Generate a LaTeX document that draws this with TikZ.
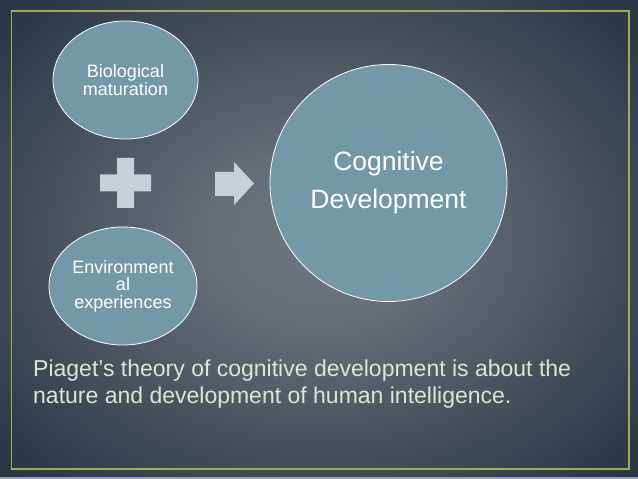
\documentclass[tikz,border=0pt]{standalone}
\usepackage{fontspec}
\setmainfont{Liberation Sans}
\usetikzlibrary{shapes.geometric}

\definecolor{bgin}{HTML}{6D7780}
\definecolor{bgin2}{HTML}{656E77}
\definecolor{bgmid}{HTML}{48525C}
\definecolor{bgedge}{HTML}{2A3848}
\definecolor{bgedge2}{HTML}{1D2B39}
\definecolor{bgout}{HTML}{13202D}
\definecolor{framey}{HTML}{A9AA4C}
\definecolor{tealfill}{HTML}{7399A6}
\definecolor{signgray}{HTML}{C5D0D8}
\definecolor{captiontxt}{HTML}{DFE5D4}
\definecolor{stripgray}{HTML}{9AA3AA}
\pgfdeclareradialshading{slide}{\pgfpoint{0bp}{0bp}}{color(0bp)=(bgin); color(9bp)=(bgin2); color(21bp)=(bgmid); color(33bp)=(bgedge); color(44bp)=(bgedge2); color(72bp)=(bgout)}

\begin{document}
\begin{tikzpicture}[x=1bp,y=-1bp,inner sep=0pt,
  oval/.style={ellipse,draw=white,line width=0.8bp,fill=tealfill,text=white,align=center,
    minimum width=145bp,minimum height=118bp,font=\fontsize{18bp}{17.5bp}\selectfont}]
\useasboundingbox (0,0) rectangle (638,479);
% slide background
\shade[shading=slide] (0,0) rectangle (638,479);
\fill[stripgray] (0,476.5) rectangle (638,479);
\draw[framey,line width=1.6bp] (11.5,10.8) rectangle (628.8,469.2);
% the two causes
\node[oval] (bio) at (125.5,80) {Biological\\maturation};
\node[oval,minimum width=148bp] (env) at (123,286) {Environment\\al\\experiences};
% plus and arrow
\fill[signgray] (117,158) rectangle (134,208) (100,174.5) rectangle (151,191.5);
\fill[signgray] (215,172) -- (234,172) -- (234,162) -- (254,183.5) -- (234,205) -- (234,196) -- (215,196) -- cycle;
% result
\node[circle,draw=white,line width=0.8bp,fill=tealfill,text=white,align=center,minimum size=237bp,
  font=\fontsize{26.5bp}{38bp}\selectfont] (cog) at (388.5,183) {Cognitive\\Development};
\node[anchor=base west,align=left,text=captiontxt,font=\fontsize{23bp}{26.5bp}\selectfont] (piaget) at (33,403)
  {Piaget’s theory of cognitive development is about the\\nature and development of human intelligence.};
\end{tikzpicture}
\end{document}
